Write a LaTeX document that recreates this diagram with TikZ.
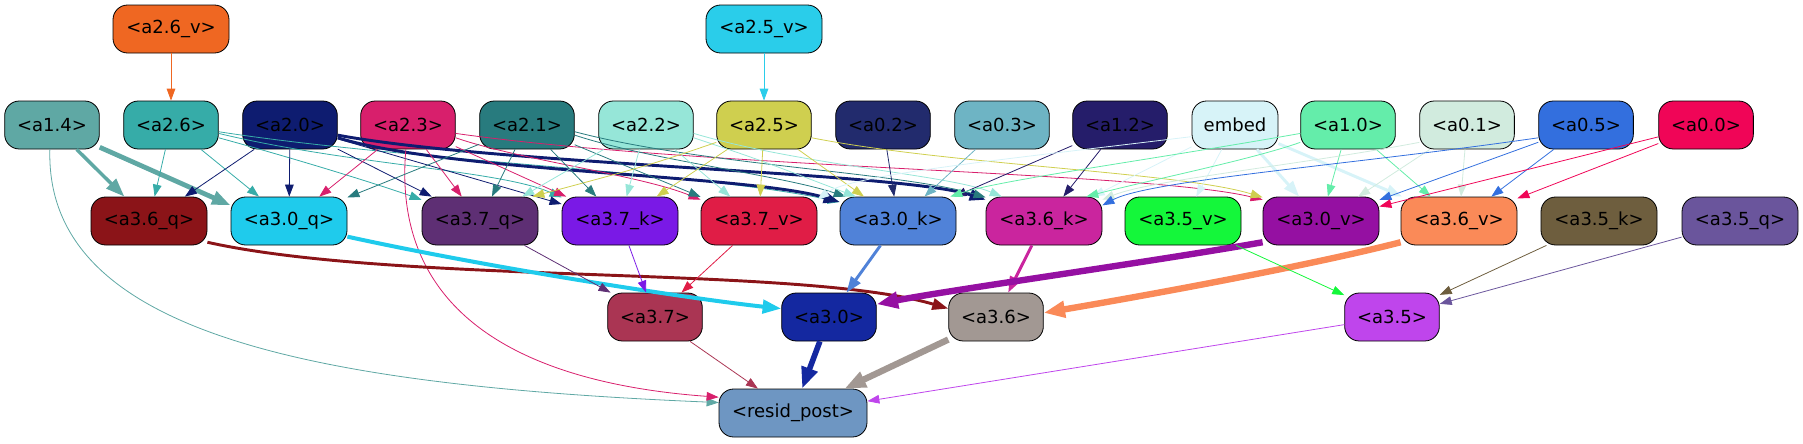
\documentclass[tikz,border=0pt]{standalone}
\usepackage{fontspec}
\setmainfont{DejaVu Sans}
\usepackage{tikz}
\usetikzlibrary{arrows.meta}

% node fills
\definecolor{c26v}{HTML}{EF6722}
\definecolor{c25v}{HTML}{2ACDEA}
\definecolor{c14}{HTML}{5FA8A4}
\definecolor{c26}{HTML}{36ACA8}
\definecolor{c20}{HTML}{0E1C70}
\definecolor{c23}{HTML}{D81F6C}
\definecolor{c21}{HTML}{287B7E}
\definecolor{c22}{HTML}{96E6D8}
\definecolor{c25}{HTML}{CFCF4F}
\definecolor{c02}{HTML}{222B6D}
\definecolor{c03}{HTML}{6EB4C4}
\definecolor{c12}{HTML}{251D6A}
\definecolor{cemb}{HTML}{D7F3F8}
\definecolor{c10}{HTML}{64EDAA}
\definecolor{c01}{HTML}{D1EBDE}
\definecolor{c05}{HTML}{336FDE}
\definecolor{c00}{HTML}{F00557}
\definecolor{c36q}{HTML}{8B1418}
\definecolor{c30q}{HTML}{1FCBEC}
\definecolor{c37q}{HTML}{5E2F74}
\definecolor{c37k}{HTML}{7A19E6}
\definecolor{c37v}{HTML}{E01D46}
\definecolor{c30k}{HTML}{5082D8}
\definecolor{c36k}{HTML}{CA259E}
\definecolor{c35v}{HTML}{14F73A}
\definecolor{c30v}{HTML}{9510A2}
\definecolor{c36v}{HTML}{FA8A58}
\definecolor{c35k}{HTML}{6E5E3E}
\definecolor{c35q}{HTML}{6A559C}
\definecolor{c37}{HTML}{AA3553}
\definecolor{c30}{HTML}{1428A0}
\definecolor{c36}{HTML}{A29893}
\definecolor{c35}{HTML}{BF45EC}
\definecolor{cres}{HTML}{6E96C2}

\tikzset{
    box/.style={draw=black, line width=0.6pt, rounded corners=11pt, minimum height=36pt,
        inner sep=0pt, font=\fontsize{13.5}{16}\selectfont},
    wa/.style={box, minimum width=71pt},
    wb/.style={box, minimum width=87pt},
    ed/.style={-{Triangle[length=9pt,width=6.5pt]}, line width=0.6pt},
    edm/.style={-{Triangle[length=12pt,width=8.5pt]}, line width=2.2pt},
    edt/.style={-{Triangle[length=14pt,width=10pt]}, line width=3pt},
    edh/.style={-{Triangle[length=16pt,width=12pt]}, line width=4.8pt},
}

\begin{document}
\begin{tikzpicture}[x=0.75pt, y=-0.75pt]
    \useasboundingbox (0,0) rectangle (1803,443);

    % top row
    \node[wb, fill=c26v] (a26v) at (171,29) {<a2.6\_v>};
    \node[wb, fill=c25v] (a25v) at (764,29) {<a2.5\_v>};

    % source row
    \foreach \nm/\x/\lbl/\col in {a14/52/{<a1.4>}/c14, a26/171/{<a2.6>}/c26, a20/290/{<a2.0>}/c20,
            a23/408/{<a2.3>}/c23, a21/527/{<a2.1>}/c21, a22/646/{<a2.2>}/c22, a25/764/{<a2.5>}/c25,
            a02/883/{<a0.2>}/c02, a03/1002/{<a0.3>}/c03, a12/1120/{<a1.2>}/c12,
            a10/1348/{<a1.0>}/c10, a01/1467/{<a0.1>}/c01, a05/1586/{<a0.5>}/c05, a00/1706/{<a0.0>}/c00} {
        \node[wa, fill=\col] (\nm) at (\x,125) {\lbl};
    }
    \node[box, minimum width=64.5pt, fill=cemb] (emb) at (1235,125) {embed};

    % q/k/v row
    \foreach \nm/\x/\lbl/\col in {a36q/149/{<a3.6\_q>}/c36q, a30q/289/{<a3.0\_q>}/c30q, a37q/480/{<a3.7\_q>}/c37q,
            a37k/620/{<a3.7\_k>}/c37k, a37v/759/{<a3.7\_v>}/c37v, a30k/898/{<a3.0\_k>}/c30k,
            a36k/1044/{<a3.6\_k>}/c36k, a35v/1183/{<a3.5\_v>}/c35v, a30v/1321/{<a3.0\_v>}/c30v,
            a36v/1459/{<a3.6\_v>}/c36v, a35k/1599/{<a3.5\_k>}/c35k, a35q/1740/{<a3.5\_q>}/c35q} {
        \node[wb, fill=\col] (\nm) at (\x,221) {\lbl};
    }

    % layer row
    \foreach \nm/\x/\lbl/\col in {a37/655/{<a3.7>}/c37, a30/829/{<a3.0>}/c30, a36/996/{<a3.6>}/c36, a35/1392/{<a3.5>}/c35} {
        \node[wa, fill=\col] (\nm) at (\x,317) {\lbl};
    }
    \node[box, minimum width=111pt, fill=cres] (res) at (793,413) {<resid\_post>};

    % top edges
    \draw[ed, c26v] (a26v) -- (a26);
    \draw[ed, c25v] (a25v) -- (a25);

    % a1.4 and a2.6
    \draw[edt, c14, line width=2.6pt] (a14) -- (a36q);
    \draw[edt, c14, line width=3.6pt] (a14.-25) -- (a30q.165);
    \draw[ed, c14] (a14.-95) .. controls (45,330) and (300,385) .. (res.172);
    \draw[ed, c26] (a26) -- (a36q);
    \draw[ed, c26] (a26) -- (a30q);
    \draw[ed, c26] (a26.-15) .. controls (300,160) and (380,185) .. (a37q.160);
    \draw[ed, c26] (a26.-10) .. controls (350,165) and (500,170) .. (a37k.158);
    \draw[ed, c26] (a26.-8) .. controls (400,160) and (700,172) .. (a30k.162);

    % a2.0
    \draw[ed, c20] (a20) -- (a36q);
    \draw[ed, c20] (a20) -- (a30q);
    \draw[ed, c20] (a20) -- (a37q);
    \draw[ed, c20] (a20) -- (a37k);
    \draw[edm, c20] (a20.-15) .. controls (450,172) and (750,175) .. (a30k.162);
    \draw[edm, c20] (a20.-12) .. controls (500,165) and (900,172) .. (a36k.160);

    % a2.3
    \draw[ed, c23] (a23) -- (a30q);
    \draw[ed, c23] (a23) -- (a37q);
    \draw[ed, c23] (a23) -- (a37k);
    \draw[ed, c23] (a23.-15) .. controls (520,160) and (640,175) .. (a37v.160);
    \draw[ed, c23] (a23.-10) .. controls (700,168) and (1150,172) .. (a30v.160);
    \draw[ed, c23] (a23.-95) .. controls (390,330) and (550,385) .. (res.168);

    % a2.1
    \draw[ed, c21] (a21) -- (a30q);
    \draw[ed, c21] (a21) -- (a37q);
    \draw[ed, c21] (a21) -- (a37k);
    \draw[ed, c21] (a21) -- (a37v);
    \draw[ed, c21] (a21.-12) .. controls (650,160) and (780,175) .. (a30k.155);
    \draw[ed, c21] (a21.-8) .. controls (700,165) and (900,172) .. (a36k.158);

    % a2.2
    \draw[ed, c22] (a22) -- (a37q);
    \draw[ed, c22] (a22) -- (a37k);
    \draw[ed, c22] (a22) -- (a37v);
    \draw[ed, c22] (a22.-15) .. controls (760,160) .. (a30k.150);
    \draw[ed, c22] (a22.-10) .. controls (800,165) and (950,175) .. (a36k.150);

    % a2.5
    \draw[ed, c25] (a25.200) .. controls (650,165) .. (a37q.25);
    \draw[ed, c25] (a25) -- (a37k);
    \draw[ed, c25] (a25) -- (a37v);
    \draw[ed, c25] (a25) -- (a30k);
    \draw[ed, c25] (a25.-15) .. controls (950,165) and (1180,172) .. (a30v.158);

    % a0.2, a0.3, a1.2
    \draw[ed, c02] (a02) -- (a30k);
    \draw[ed, c03] (a03) -- (a30k);
    \draw[ed, c12] (a12) -- (a30k);
    \draw[ed, c12] (a12) -- (a36k);

    % embed
    \draw[ed, cemb] (emb.195) .. controls (1000,160) and (850,175) .. (a37v.20);
    \draw[ed, cemb] (emb) -- (a36k);
    \draw[ed, cemb] (emb) -- (a35v);
    \draw[edm, cemb] (emb) -- (a30v);
    \draw[edm, cemb] (emb) -- (a36v);

    % a1.0, a0.1, a0.5, a0.0
    \draw[ed, c10] (a10.190) .. controls (1150,160) and (1000,180) .. (a30k.25);
    \draw[ed, c10] (a10.200) .. controls (1250,160) and (1150,180) .. (a36k.30);
    \draw[ed, c10] (a10) -- (a30v);
    \draw[ed, c10] (a10) -- (a36v);
    \draw[ed, c01] (a01.200) .. controls (1300,165) and (1150,180) .. (a36k.20);
    \draw[ed, c01] (a01) -- (a30v);
    \draw[ed, c01] (a01) -- (a36v);
    \draw[ed, c05] (a05.195) .. controls (1350,165) and (1150,180) .. (a36k.15);
    \draw[ed, c05] (a05) -- (a30v);
    \draw[ed, c05] (a05) -- (a36v);
    \draw[ed, c00] (a00) -- (a30v);
    \draw[ed, c00] (a00) -- (a36v);

    % q/k/v to layers
    \draw[edm, c36q] (a36q.-20) .. controls (400,285) and (800,265) .. (a36.170);
    \draw[edt, c30q] (a30q.-15) .. controls (500,270) and (700,300) .. (a30.170);
    \draw[ed, c37q] (a37q) -- (a37);
    \draw[ed, c37k] (a37k) -- (a37);
    \draw[ed, c37v] (a37v) -- (a37);
    \draw[edm, c30k] (a30k) -- (a30);
    \draw[edm, c36k] (a36k) -- (a36);
    \draw[edh, c30v] (a30v.200) .. controls (1150,262) and (950,290) .. (a30.15);
    \draw[edh, c36v] (a36v.200) .. controls (1300,268) and (1120,300) .. (a36.5);
    \draw[ed, c35v] (a35v) -- (a35);
    \draw[ed, c35k] (a35k) -- (a35);
    \draw[ed, c35q] (a35q) -- (a35);

    % layers to resid_post
    \draw[ed, c37] (a37) -- (res);
    \draw[edh, c30, line width=4.2pt] (a30) -- (res);
    \draw[edh, c36] (a36) -- (res);
    \draw[ed, c35] (a35) -- (res);
\end{tikzpicture}
\end{document}
